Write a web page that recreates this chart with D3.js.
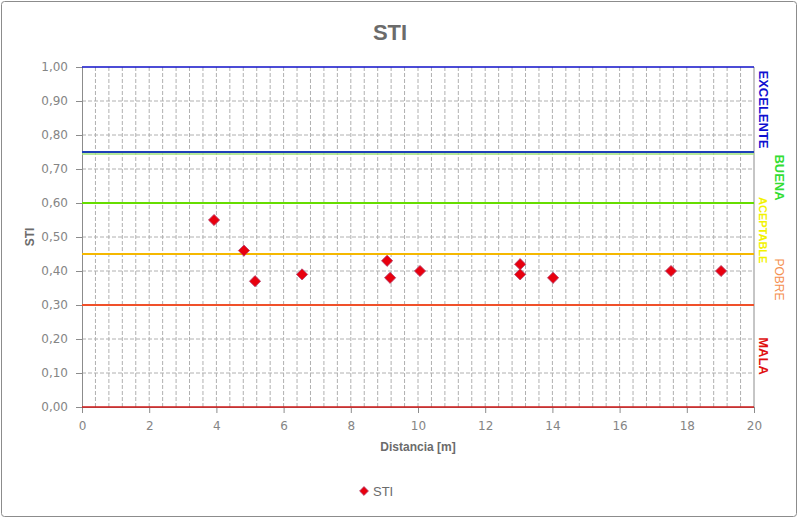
<!DOCTYPE html>
<html>
<head>
<meta charset="utf-8">
<script src="https://cdn.jsdelivr.net/npm/d3@7"></script>
<style>
  body { margin: 0; background: #fff; }
</style>
</head>
<body>
<div id="chart"></div>
<script>
// measured points
const distancia = [3.93, 4.82, 5.15, 6.55, 9.08, 9.17, 10.06, 13.04, 13.04, 14.02, 17.53, 19.02]
const sti = [0.55, 0.46, 0.37, 0.39, 0.43, 0.38, 0.40, 0.42, 0.39, 0.38, 0.40, 0.40]

// quality thresholds and band labels
const thresholds = [1.00, 0.75, 0.60, 0.45, 0.30, 0.00]
const thresholdColors = ["#1010c8", "#1d3fb8", "#66dd00", "#f5b800", "#f0502a", "#d01818"]
const bandNames = ["EXCELENTE", "BUENA", "ACEPTABLE", "POBRE", "MALA"]
const bandColors = ["#1010d0", "#33dd33", "#f2f200", "#f59050", "#e01010"]
const bandTop = [1.00, 0.75, 0.62, 0.45, 0.20]
const bandBottom = [0.75, 0.60, 0.42, 0.30, 0.10]
const bandOffset = [0, 1, 0, 1, 0]

const yTicks = d3.range(0, 1.001, 0.1)
const xTicks = d3.range(0, 21, 2)

const font = "'Liberation Sans', Arial, sans-serif"

let margin = {top: 67, right: 46, bottom: 114, left: 82},
    width = 800 - margin.left - margin.right,
    height = 521 - margin.top - margin.bottom;

let svg = d3.select("#chart")
    .append("svg")
    .attr("width", 800)
    .attr("height", 521)
    .attr("font-family", font)

svg.append("rect")
    .attr("x", 1.5).attr("y", 1.5)
    .attr("width", 795).attr("height", 515)
    .attr("rx", 3)
    .attr("fill", "#fff")
    .attr("stroke", "#8c8c8c")

svg.append("text")
    .attr("x", 390).attr("y", 40)
    .attr("text-anchor", "middle")
    .attr("font-size", 22)
    .attr("font-weight", "bold")
    .attr("fill", "#6b6b6b")
    .text("STI")

let g = svg.append("g")
    .attr("transform", "translate(" + margin.left + "," + margin.top + ")")

let x = d3.scaleLinear().domain([0, 20]).range([0, width])
let y = d3.scaleLinear().domain([0, 1]).range([height, 0])

// grid
g.append("g")
    .selectAll("line")
    .data(d3.range(0.4, 20, 0.4))
    .join("line")
    .attr("x1", d => x(d)).attr("x2", d => x(d))
    .attr("y1", 0).attr("y2", height)
    .attr("stroke", "#b0b0b0")
    .attr("stroke-dasharray", "4,2")
g.append("g")
    .selectAll("line")
    .data(yTicks.slice(1, -1))
    .join("line")
    .attr("x1", 0).attr("x2", width)
    .attr("y1", d => y(d)).attr("y2", d => y(d))
    .attr("stroke", "#b0b0b0")
    .attr("stroke-dasharray", "4,2")

// right border
g.append("line")
    .attr("x1", width).attr("x2", width)
    .attr("y1", 0).attr("y2", height)
    .attr("stroke", "#8c8c8c")

// axes
let yAxis = g.append("g")
    .call(d3.axisLeft(y).tickValues(yTicks).tickSize(6).tickPadding(8)
        .tickFormat(d => d3.format(".2f")(d).replace(".", ",")))
let xAxis = g.append("g")
    .attr("transform", "translate(0," + height + ")")
    .call(d3.axisBottom(x).tickValues(xTicks).tickSize(6).tickPadding(8))
for (const ax of [xAxis, yAxis]) {
    ax.attr("font-family", "DejaVu Sans").attr("font-size", 12)
    ax.select(".domain").attr("stroke", "#8c8c8c")
    ax.selectAll(".tick line").attr("stroke", "#8c8c8c")
    ax.selectAll("text").attr("fill", "#858585")
}

// thresholds
g.append("line")
    .attr("x1", 0).attr("x2", width)
    .attr("y1", y(0.75) + 2).attr("y2", y(0.75) + 2)
    .attr("stroke", "#9be07a").attr("stroke-width", 1.5)
g.append("g")
    .selectAll("line")
    .data(thresholds)
    .join("line")
    .attr("x1", 0).attr("x2", width)
    .attr("y1", d => y(d)).attr("y2", d => y(d))
    .attr("stroke", (d, i) => thresholdColors[i])
    .attr("stroke-width", (d, i) => i == 0 || i == 5 ? 1.5 : 2)

// band labels, rotated
g.append("g")
    .selectAll("text")
    .data(bandNames)
    .join("text")
    .attr("transform", (d, i) => "translate(" + (width + 5 + bandOffset[i] * 16) + "," + y((bandTop[i] + bandBottom[i]) / 2) + ")rotate(90)")
    .attr("text-anchor", "middle")
    .attr("font-size", (d, i) => i == 2 ? 11 : (i == 3 ? 12 : 13))
    .attr("font-weight", (d, i) => i == 3 ? "normal" : "bold")
    .attr("fill", (d, i) => bandColors[i])
    .text(d => d)

// axis titles
g.append("text")
    .attr("x", width / 2).attr("y", height + 44)
    .attr("text-anchor", "middle")
    .attr("font-size", 12).attr("font-weight", "bold")
    .attr("fill", "#6b6b6b")
    .text("Distancia [m]")
g.append("text")
    .attr("transform", "translate(-48," + (height / 2) + ")rotate(-90)")
    .attr("text-anchor", "middle")
    .attr("font-size", 12).attr("font-weight", "bold")
    .attr("fill", "#6b6b6b")
    .text("STI")

// points
let diamond = d3.symbol().type(d3.symbolDiamond2).size(80)
g.append("g")
    .selectAll("path")
    .data(distancia.map((d, i) => ({x: d, y: sti[i]})))
    .join("path")
    .attr("transform", d => "translate(" + x(d.x) + "," + y(d.y) + ")")
    .attr("d", diamond)
    .attr("fill", "#e8000e")
    .attr("stroke", "#b04070")
    .attr("stroke-width", 0.8)

// legend
svg.append("path")
    .attr("transform", "translate(364,491)")
    .attr("d", d3.symbol().type(d3.symbolDiamond2).size(50))
    .attr("fill", "#e8000e")
    .attr("stroke", "#b04070")
    .attr("stroke-width", 0.8)
svg.append("text")
    .attr("x", 373).attr("y", 496)
    .attr("font-size", 13)
    .attr("fill", "#6b6b6b")
    .text("STI")
</script>
</body>
</html>
